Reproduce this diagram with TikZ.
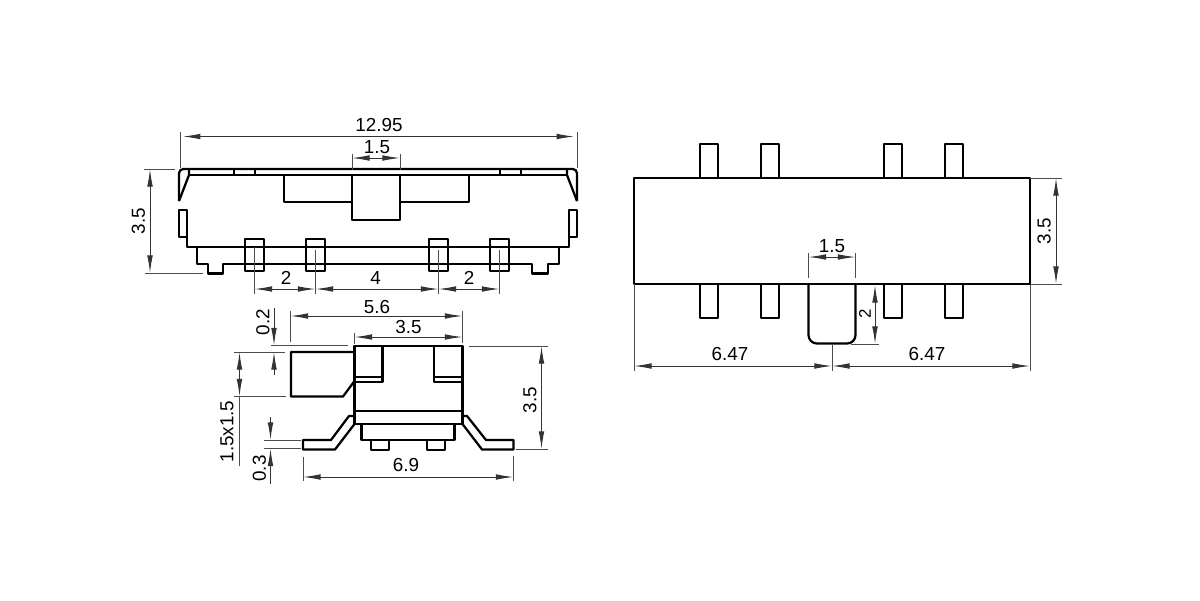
\documentclass[tikz,border=0pt]{standalone}
\usepackage{fontspec}
\setmainfont{Liberation Sans}
\usetikzlibrary{arrows.meta}
\tikzset{
	outline/.style={line width=1.6pt,black},
	dimline/.style={line width=0.7pt,black!80,{Latex[length=12.5pt,width=4pt]}-{Latex[length=12.5pt,width=4pt]}},
	dimone/.style={line width=0.7pt,black!80,-{Latex[length=12.5pt,width=4pt]}},
	extline/.style={line width=0.7pt,black!70},
	dimtext/.style={inner sep=0pt,font=\fontsize{13.4}{14}\selectfont,black},
	dimside/.style={dimtext,rotate=90}
}
\begin{document}
\begin{tikzpicture}[x=0.025cm,y=-0.025cm,line join=round,line cap=butt]
	\useasboundingbox (0,0) rectangle (1200,600);
	%Top view.
	\draw[outline,rounded corners=3] (179,201)--(179,169)--(577,169)--(577,201);
	\draw[outline] (189,169)--(189,175)--(179,201) (567,169)--(567,175)--(577,201);
	\draw[outline] (189,175)--(567,175);
	\draw[outline] (179,210) rectangle (187,237);
	\draw[outline] (569,210) rectangle (577,237);
	\draw[outline] (187,237)--(187,247)--(569,247)--(569,237);
	\draw[outline] (197,247)--(197,264)--(208,264)--(208,273.5)--(223,273.5)--(223,264)--(532,264)--(532,273.5)--(548,273.5)--(548,264)--(559,264)--(559,247);
	\foreach \x in {234,255,500,521}{
		\draw[outline] (\x,169)--(\x,175);
	}
	%Slider, top view.
	\draw[outline] (284,175)--(284,202)--(352,202) (400,202)--(469,202)--(469,175);
	\draw[outline] (352,175)--(352,220)--(400,220)--(400,175);
	\foreach \x in {245,306,429,490}{
		\draw[outline,fill=white] (\x,239) rectangle ({\x+19},271);
		\draw[outline] (\x,247)--({\x+19},247) (\x,264)--({\x+19},264);
	}
	%Dimensions, top view.
	\draw[extline] (180,132)--(180,168) (577,132)--(577,168);
	\draw[dimline,shorten <=2pt,shorten >=2pt] (180,136.5)--(577,136.5);
	\node[dimtext] (wholewidth) at (379,125) {12.95};
	\draw[extline] (352,154)--(352,170) (400,154)--(400,170);
	\draw[dimline] (352,158)--(400,158);
	\node[dimtext] (sliderwidth) at (377,147) {1.5};
	\draw[extline] (144,169)--(175,169) (145,273)--(203,273);
	\draw[dimline] (150,169)--(150,273);
	\node[dimside] (topheight) at (138.5,221) {3.5};
	\draw[extline] (254.5,247)--(254.5,294) (315.5,250)--(315.5,294) (438.5,250)--(438.5,294) (499.5,250)--(499.5,294);
	\draw[dimline] (254.5,289)--(315.5,289);
	\draw[dimline] (315.5,289)--(438.5,289);
	\draw[dimline] (438.5,289)--(499.5,289);
	\node[dimtext] (pitchleft) at (286,278) {2};
	\node[dimtext] (pitchmid) at (375.5,278) {4};
	\node[dimtext] (pitchright) at (469,278) {2};
	%Side view.
	\draw[outline] (354.5,346) rectangle (462.5,424);
	\draw[outline] (354.5,411)--(462.5,411);
	\draw[outline] (382.5,346)--(382.5,382)--(354.5,382) (354.5,377)--(382.5,377);
	\draw[outline] (434,346)--(434,382)--(462.5,382) (462.5,377)--(434,377);
	\draw[outline] (354.5,352)--(291,352)--(291,396.5)--(343,396.5)--(354.5,381);
	\draw[outline] (354.5,416)--(349,416)--(331,440)--(303,440)--(303,449.5)--(335,449.5)--(354.5,424);
	\draw[outline] (462.5,416)--(467,416)--(486,440)--(513.5,440)--(513.5,449.5)--(482,449.5)--(462.5,424);
	\draw[outline] (361.5,424)--(361.5,440)--(454.5,440)--(454.5,424);
	\foreach \x in {371,427}{
		\draw[outline] (\x,440)--(\x,450)--({\x+18},450)--({\x+18},440);
	}
	%Dimensions, side view.
	\draw[extline] (290.5,311)--(290.5,342) (462.5,311)--(462.5,343);
	\draw[dimline] (290.5,316)--(462.5,316);
	\node[dimtext] (sidetotal) at (377,307) {5.6};
	\draw[extline] (354.5,333)--(354.5,344);
	\draw[dimline] (354.5,337)--(462.5,337);
	\node[dimtext] (sidebody) at (408.5,327) {3.5};
	\draw[extline] (271,345.5)--(348,345.5) (234,352)--(285,352);
	\draw[dimone] (274,308)--(274,345.5);
	\draw[dimone] (274,375)--(274,352);
	\node[dimside] (slidergap) at (263,322) {0.2};
	\draw[extline] (234,396.5)--(286,396.5);
	\draw[dimline] (239.5,352)--(239.5,396.5);
	\draw[extline] (239.5,396.5)--(239.5,466);
	\node[dimside] (slidersize) at (227,431.5) {1.5x1.5};
	\draw[extline] (264,440)--(301,440) (264,448.5)--(301,448.5);
	\draw[dimone] (270.5,417)--(270.5,440);
	\draw[dimone] (270.5,484)--(270.5,448.5);
	\node[dimside] (legthick) at (259.5,468.5) {0.3};
	\draw[extline] (303,457)--(303,481) (513.5,456)--(513.5,481);
	\draw[dimline] (303,477)--(513.5,477);
	\node[dimtext] (legspan) at (406,465) {6.9};
	\draw[extline] (469,346)--(548,346) (516,449)--(548,449);
	\draw[dimline] (541.5,346)--(541.5,449);
	\node[dimside] (sideheight) at (530,400) {3.5};
	%Bottom view.
	\foreach \x in {700,761,884,945}{
		\draw[outline] (\x,178)--(\x,144)--({\x+18},144)--({\x+18},178);
		\draw[outline] (\x,284)--(\x,318)--({\x+18},318)--({\x+18},284);
	}
	\draw[outline] (634,178) rectangle (1030,284);
	\draw[outline,rounded corners=6] (808.5,284)--(808.5,343.5)--(855.5,343.5)--(855.5,284);
	%Dimensions, bottom view.
	\draw[extline] (808.5,253)--(808.5,278) (855.5,253)--(855.5,278);
	\draw[dimline] (808.5,257)--(855.5,257);
	\node[dimtext] (knobwidth) at (832,246.5) {1.5};
	\draw[extline] (851,344)--(879,344);
	\draw[dimline] (875,285)--(875,344);
	\node[dimside,font=\fontsize{12}{14}\selectfont] (knobheight) at (865,313.5) {2};
	\draw[extline] (634,284)--(634,371) (1030,284)--(1030,371) (832,344)--(832,371);
	\draw[dimline] (634,366)--(832,366);
	\draw[dimline] (832,366)--(1030,366);
	\node[dimtext] (halfleft) at (730,354) {6.47};
	\node[dimtext] (halfright) at (927,354) {6.47};
	\draw[extline] (1030,178)--(1062,178) (1030,284)--(1062,284);
	\draw[dimline] (1056,178)--(1056,284);
	\node[dimside] (bottomheight) at (1044,231) {3.5};
\end{tikzpicture}
\end{document}
